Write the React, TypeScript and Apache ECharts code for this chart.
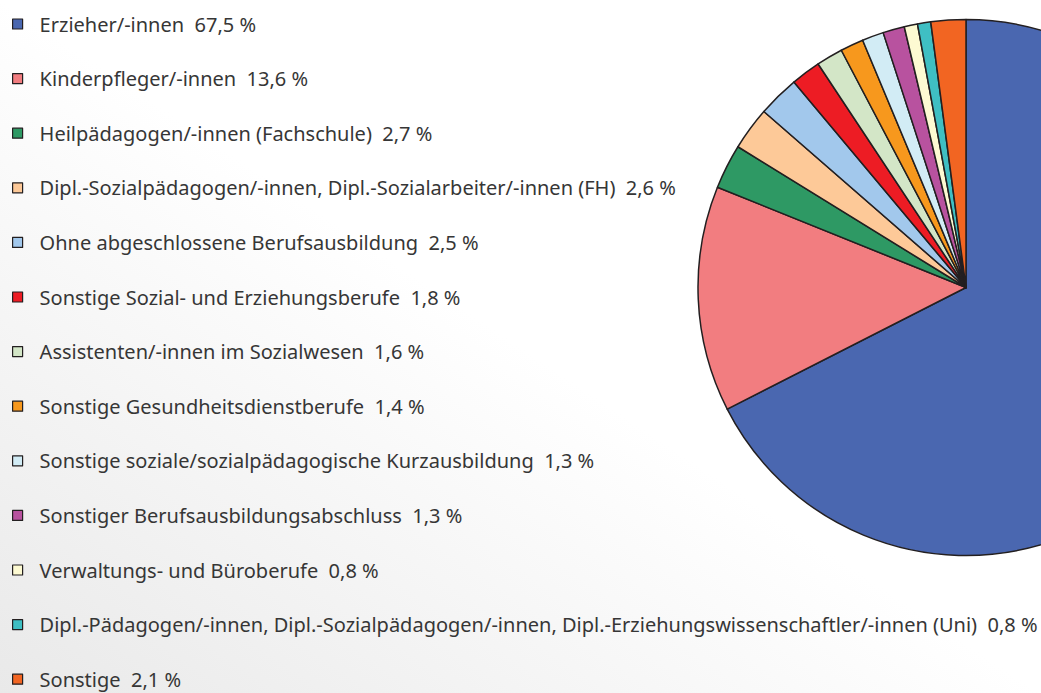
import React, { useEffect, useRef } from "react";
import * as echarts from "echarts";

const categories = [
  "Erzieher/-innen",
  "Kinderpfleger/-innen",
  "Heilpädagogen/-innen (Fachschule)",
  "Dipl.-Sozialpädagogen/-innen, Dipl.-Sozialarbeiter/-innen (FH)",
  "Ohne abgeschlossene Berufsausbildung",
  "Sonstige Sozial- und Erziehungsberufe",
  "Assistenten/-innen im Sozialwesen",
  "Sonstige Gesundheitsdienstberufe",
  "Sonstige soziale/sozialpädagogische Kurzausbildung",
  "Sonstiger Berufsausbildungsabschluss",
  "Verwaltungs- und Büroberufe",
  "Dipl.-Pädagogen/-innen, Dipl.-Sozialpädagogen/-innen, Dipl.-Erziehungswissenschaftler/-innen (Uni)",
  "Sonstige",
];

const values = [67.5, 13.6, 2.7, 2.6, 2.5, 1.8, 1.6, 1.4, 1.3, 1.3, 0.8, 0.8, 2.1];

const colors = [
  "#4a67b0",
  "#f27d80",
  "#2e9964",
  "#fdc998",
  "#a2c8ec",
  "#ed1c24",
  "#d3e6c7",
  "#f7981d",
  "#d2ecf5",
  "#b8529f",
  "#fdfad2",
  "#3fbfc3",
  "#f26522",
];

export default function App() {
  const ref = useRef<HTMLDivElement>(null);
  useEffect(() => {
    document.body.style.margin = "0";
    if (!ref.current) return;
    const chart = echarts.init(ref.current, undefined, { renderer: "svg" });
    const fmt = (v: number) => v.toFixed(1).replace(".", ",");
    chart.setOption({
      animation: false,
      backgroundColor: {
        type: "linear",
        x: 0,
        y: 1,
        x2: 1,
        y2: 0,
        colorStops: [
          { offset: 0, color: "#e9e9e9" },
          { offset: 0.5, color: "#ffffff" },
          { offset: 1, color: "#ffffff" },
        ],
      },
      color: colors,
      legend: {
        orient: "vertical",
        left: 12,
        top: 14,
        height: 1000,
        padding: 0,
        icon: "rect",
        itemWidth: 10,
        itemHeight: 10,
        itemGap: 34.6,
        selectedMode: false,
        itemStyle: { borderColor: "#231f20", borderWidth: 1.2 },
        textStyle: {
          fontFamily: "Noto Sans",
          fontSize: 20,
          color: "#363636",
          padding: [0, 0, 0, 12],
        },
        formatter: (name: string) => {
          const i = categories.indexOf(name);
          return `${name}  ${fmt(values[i])} %`;
        },
        data: categories,
      },
      series: [
        {
          type: "pie",
          center: [966, 287.5],
          radius: 268,
          startAngle: 90,
          clockwise: true,
          label: { show: false },
          labelLine: { show: false },
          emphasis: { disabled: true },
          itemStyle: { borderColor: "#231f20", borderWidth: 1.5 },
          data: categories.map((c, i) => ({ name: c, value: values[i] })),
        },
      ],
    });
    return () => chart.dispose();
  }, []);
  return <div ref={ref} style={{ width: 1041, height: 693 }} />;
}
